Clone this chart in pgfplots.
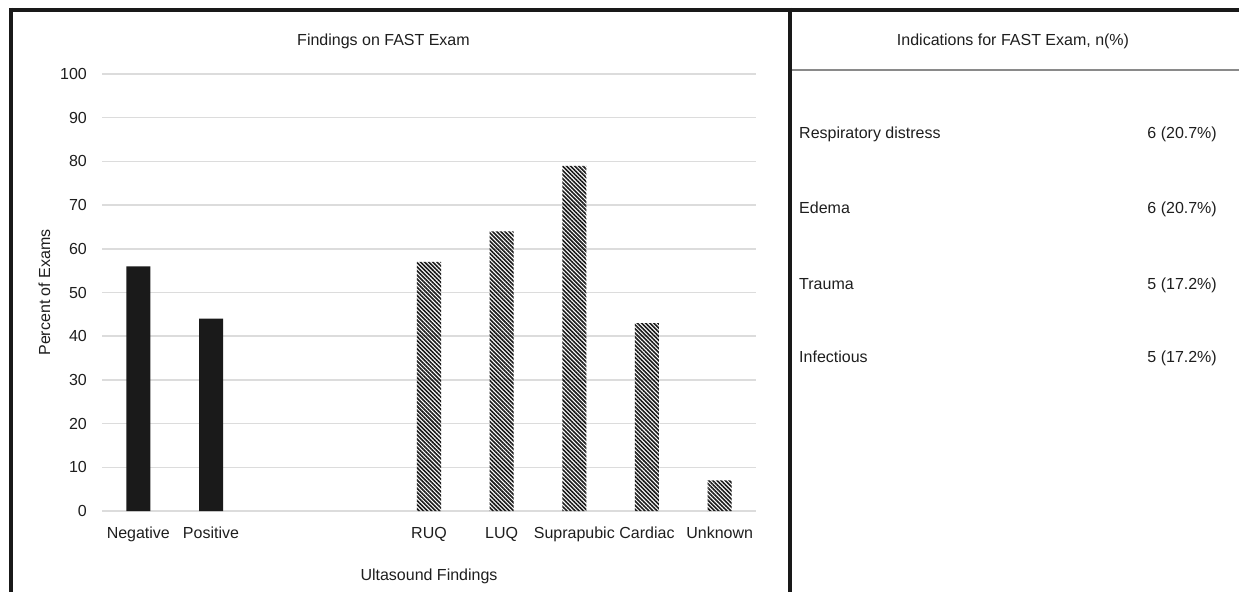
\documentclass[border=0pt]{standalone}
\usepackage{pgfplots}
\pgfplotsset{compat=1.18}
\usetikzlibrary{patterns.meta}
\usepackage{fontspec}
\setmainfont{Liberation Sans}

\definecolor{txt}{HTML}{1E1E1E}
\definecolor{gridgray}{HTML}{DCDCDC}
\definecolor{barblack}{HTML}{1A1A1A}
\definecolor{rulegray}{HTML}{8A8A8A}

\newcommand{\chartfont}{\fontsize{16}{19}\selectfont}

\begin{document}
\begin{tikzpicture}[x=1pt,y=1pt]
\path[use as bounding box] (0,0) rectangle (1239,592);

% outer frame and panel divider
\draw[black!90, line width=3.5pt] (9,582) -- (1239,582);
\draw[black!90, line width=4pt] (11,584) -- (11,0);
\draw[black!90, line width=4.5pt] (790,584) -- (790,0);
\draw[rulegray, line width=1.5pt] (792,522) -- (1239,522);

\begin{axis}[
  at={(102pt,81pt)}, anchor=south west,
  scale only axis, width=654pt, height=437pt,
  ybar, bar width=24pt,
  xmin=-0.5, xmax=8.5, ymin=0, ymax=100,
  ytick={0,10,...,100},
  xtick={0,1,4,5,6,7,8},
  xticklabels={Negative,Positive,RUQ,LUQ,Suprapubic,Cardiac,Unknown},
  axis line style={draw=none}, tick style={draw=none},
  ymajorgrids, major grid style={draw=gridgray, line width=1.5pt},
  /pgf/number format/assume math mode=true,
  ticklabel style={font=\chartfont, text=txt, inner sep=0pt},
  yticklabel style={anchor=east, xshift=-15pt},
  xticklabel style={anchor=base, yshift=-23pt},
  title={Findings on FAST Exam},
  title style={font=\chartfont, text=txt, at={(axis description cs:0.4304,1.051)}, anchor=base, inner sep=0pt},
  xlabel={Ultasound Findings},
  xlabel style={font=\chartfont, text=txt, at={(axis description cs:0.5,-0.160)}, anchor=base, inner sep=0pt},
  ylabel={Percent of Exams},
  ylabel style={font=\chartfont, text=txt, at={(axis description cs:-0.088,0.5)}, anchor=center, rotate=0, inner sep=0pt},
]
% overall result of the exam
\addplot[fill=barblack, draw=none, bar shift=0pt] coordinates {(0,56) (1,44)};
% location of positive findings
\addplot[draw=none, bar shift=0pt,
  pattern={Lines[angle=-45,distance=2.9pt,line width=1.6pt]}, pattern color=barblack]
  coordinates {(4,57) (5,64) (6,79) (7,43) (8,7)};
\end{axis}

% indications table
\begin{scope}[every node/.style={font=\chartfont, text=txt, inner sep=0pt}]
\node[anchor=base] at (1013,546) {Indications for FAST Exam, n(\%)};
\node[anchor=base west] at (799,453) {Respiratory distress};
\node[anchor=base east] at (1217,453) {6 (20.7\%)};
\node[anchor=base west] at (799,378) {Edema};
\node[anchor=base east] at (1217,378) {6 (20.7\%)};
\node[anchor=base west] at (799,302) {Trauma};
\node[anchor=base east] at (1217,302) {5 (17.2\%)};
\node[anchor=base west] at (799,229) {Infectious};
\node[anchor=base east] at (1217,229) {5 (17.2\%)};
\end{scope}
\end{tikzpicture}
\end{document}
